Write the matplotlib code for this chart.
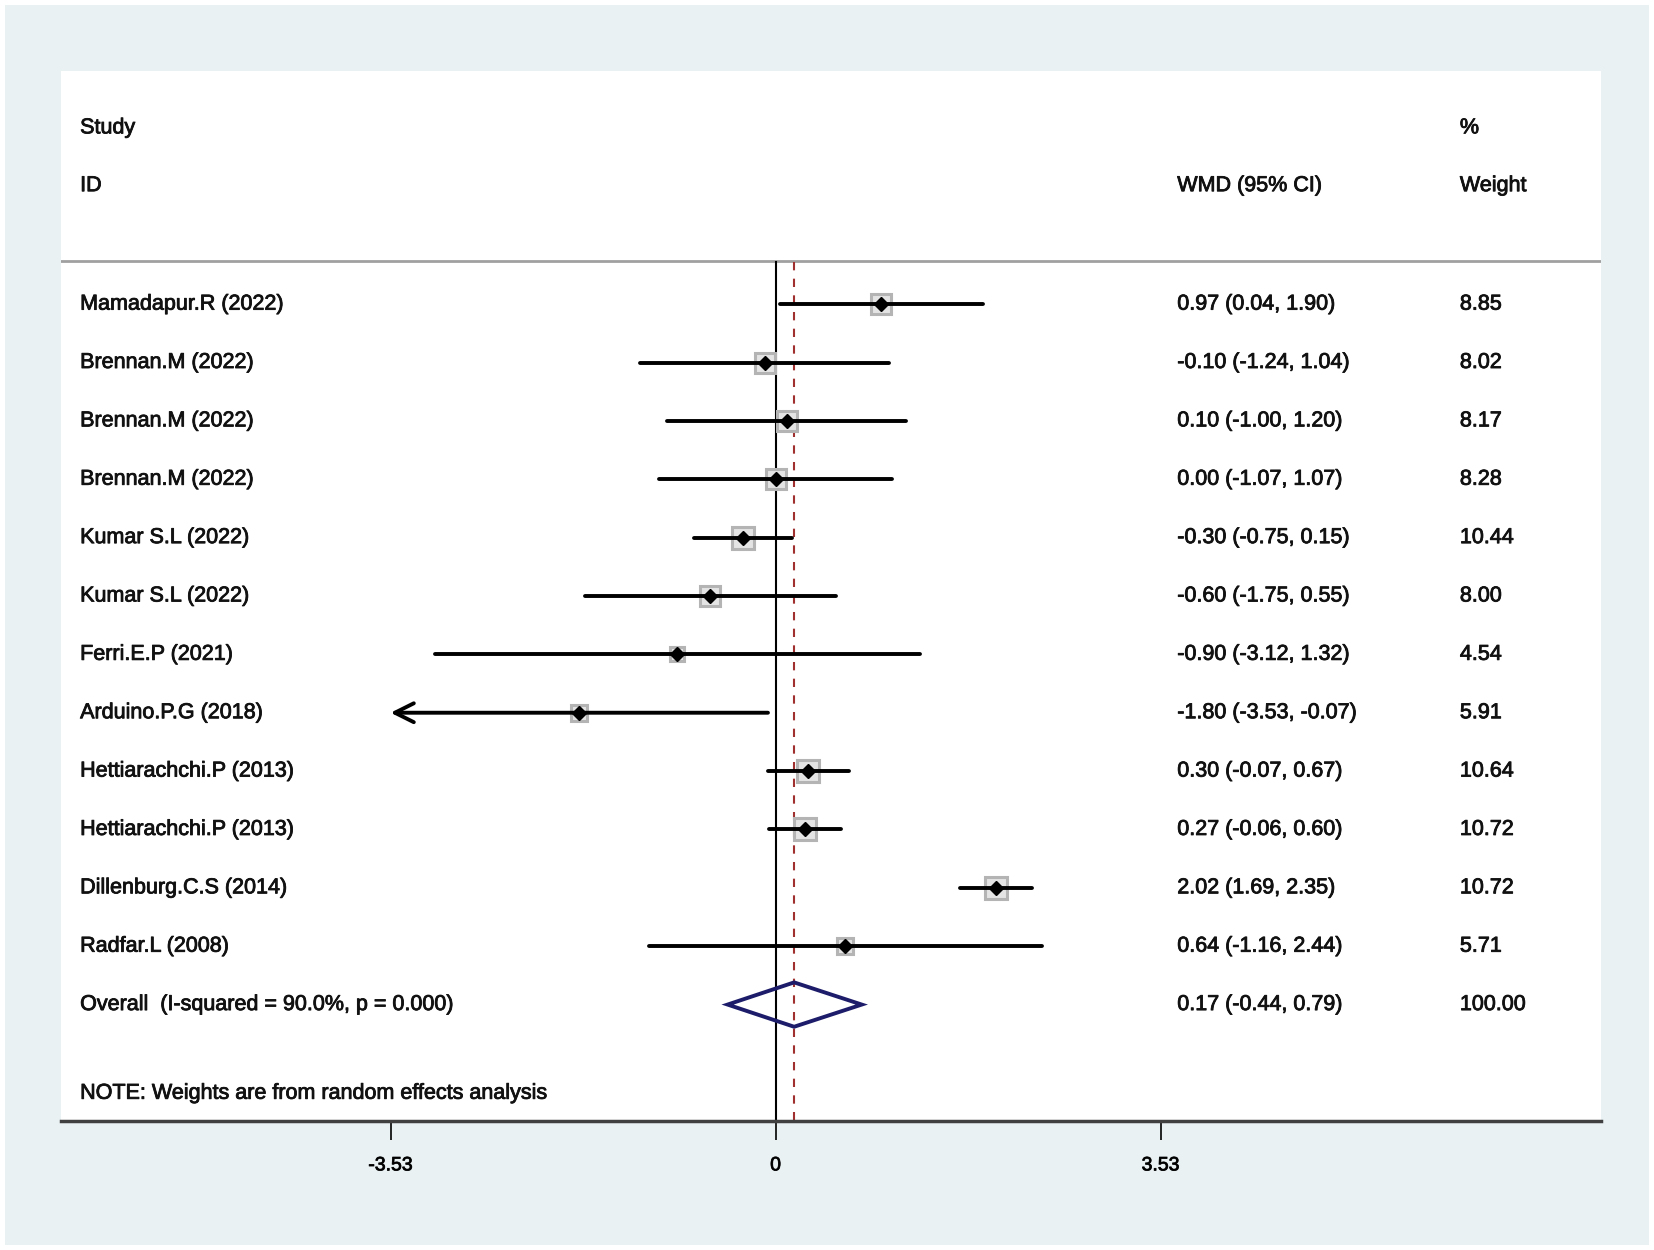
import numpy as np
import matplotlib
matplotlib.use('Agg')
import matplotlib.pyplot as plt
import matplotlib.patheffects as pe
from matplotlib.patches import Rectangle, Polygon

studies = ['Mamadapur.R (2022)', 'Brennan.M (2022)', 'Brennan.M (2022)', 'Brennan.M (2022)',
           'Kumar S.L (2022)', 'Kumar S.L (2022)', 'Ferri.E.P (2021)', 'Arduino.P.G (2018)',
           'Hettiarachchi.P (2013)', 'Hettiarachchi.P (2013)', 'Dillenburg.C.S (2014)', 'Radfar.L (2008)']
est = [0.97, -0.10, 0.10, 0.00, -0.30, -0.60, -0.90, -1.80, 0.30, 0.27, 2.02, 0.64]
lo = [0.04, -1.24, -1.00, -1.07, -0.75, -1.75, -3.12, -3.53, -0.07, -0.06, 1.69, -1.16]
hi = [1.90, 1.04, 1.20, 1.07, 0.15, 0.55, 1.32, -0.07, 0.67, 0.60, 2.35, 2.44]
wmd_labels = ['0.97 (0.04, 1.90)', '-0.10 (-1.24, 1.04)', '0.10 (-1.00, 1.20)', '0.00 (-1.07, 1.07)',
              '-0.30 (-0.75, 0.15)', '-0.60 (-1.75, 0.55)', '-0.90 (-3.12, 1.32)', '-1.80 (-3.53, -0.07)',
              '0.30 (-0.07, 0.67)', '0.27 (-0.06, 0.60)', '2.02 (1.69, 2.35)', '0.64 (-1.16, 2.44)']
weights = ['8.85', '8.02', '8.17', '8.28', '10.44', '8.00', '4.54', '5.91', '10.64', '10.72', '10.72', '5.71']

overall_est, overall_lo, overall_hi = 0.17, -0.44, 0.79
overall_label = 'Overall  (I-squared = 90.0%, p = 0.000)'
overall_text = '0.17 (-0.44, 0.79)'
overall_weight = '100.00'
tick_vals = [-3.53, 0, 3.53]
tick_labels = ['-3.53', '0', '3.53']
arrow_rows = [7]

W, H = 1568.0, 1185.0
plt.rcParams['font.family'] = ['Liberation Sans', 'DejaVu Sans']
fs = 15.5
heavy = [pe.withStroke(linewidth=0.6, foreground='#111111')]

fig = plt.figure(figsize=(16.54, 12.5), dpi=100)
fig.patch.set_facecolor('white')
fig.patches.append(Rectangle((5 / W, 1 - 1180 / H), 1558 / W, 1175 / H, transform=fig.transFigure,
                             facecolor='#e9f1f3', edgecolor='none', zorder=-10))

ax = fig.add_axes([58 / W, 1 - 1063 / H, 1460 / W, 996 / H])
ax.set_facecolor('white')
ax.set_xlim(-6.55, 7.57)
ax.set_ylim(14.0, -4.0)
for s in ['top', 'left', 'right']:
    ax.spines[s].set_visible(False)
ax.spines['bottom'].set_color('#404040')
ax.spines['bottom'].set_linewidth(2.5)
ax.set_yticks([])
ax.set_xticks(tick_vals)
ax.set_xticklabels(tick_labels, fontsize=14)
for lab in ax.get_xticklabels():
    lab.set_path_effects(heavy)
ax.tick_params(axis='x', length=14, width=1.2, color='black', pad=12)

tr = ax.get_yaxis_transform()
n = len(studies)
rows = np.arange(n)


def put(x, y, s):
    ax.text(x, y, s, transform=tr, fontsize=fs, va='center', color='#111111', path_effects=heavy)


# header
put(0.0123, -3.02, 'Study')
put(0.0123, -2.03, 'ID')
put(0.7247, -2.03, 'WMD (95% CI)')
put(0.9082, -3.02, '%')
put(0.9082, -2.03, 'Weight')
ax.axhline(-0.74, color='#a0a0a0', lw=2)

# reference lines
ax.plot([0, 0], [-0.72, 14.0], color='black', lw=1.5, zorder=2)
ax.plot([overall_est, overall_est], [-0.72, 14.0], color='#a03030', lw=1.5, ls=(0, (4, 4)), zorder=2)

# study rows
w = np.array([float(v) for v in weights])
for i in rows:
    if i in arrow_rows:
        ax.annotate('', xy=(lo[i], i), xytext=(hi[i], i),
                    arrowprops=dict(arrowstyle='->', lw=2.8, color='black', mutation_scale=34,
                                    shrinkA=0, shrinkB=0), zorder=4)
    else:
        ax.plot([lo[i], hi[i]], [i, i], color='black', lw=2.8, solid_capstyle='round', zorder=4)
    ax.plot(est[i], i, marker='s', ms=np.sqrt(w[i]) * 5.0, mfc='#e4e4e4', mec='#b4b4b4',
            mew=2.2, zorder=3)
    ax.plot(est[i], i, marker='D', ms=7, color='black', zorder=5)
    put(0.0123, i, studies[i])
    put(0.7247, i, wmd_labels[i])
    put(0.9082, i, weights[i])

# overall diamond
yo = n
ax.add_patch(Polygon([[overall_lo, yo], [overall_est, yo - 0.38], [overall_hi, yo], [overall_est, yo + 0.38]],
                     closed=True, facecolor='none', edgecolor='#1c1c6a', lw=2.8, zorder=4))
put(0.0123, yo, overall_label)
put(0.7247, yo, overall_text)
put(0.9082, yo, overall_weight)

put(0.0123, 13.52, 'NOTE: Weights are from random effects analysis')

fig.savefig('out.png', dpi=100, facecolor=fig.get_facecolor())
